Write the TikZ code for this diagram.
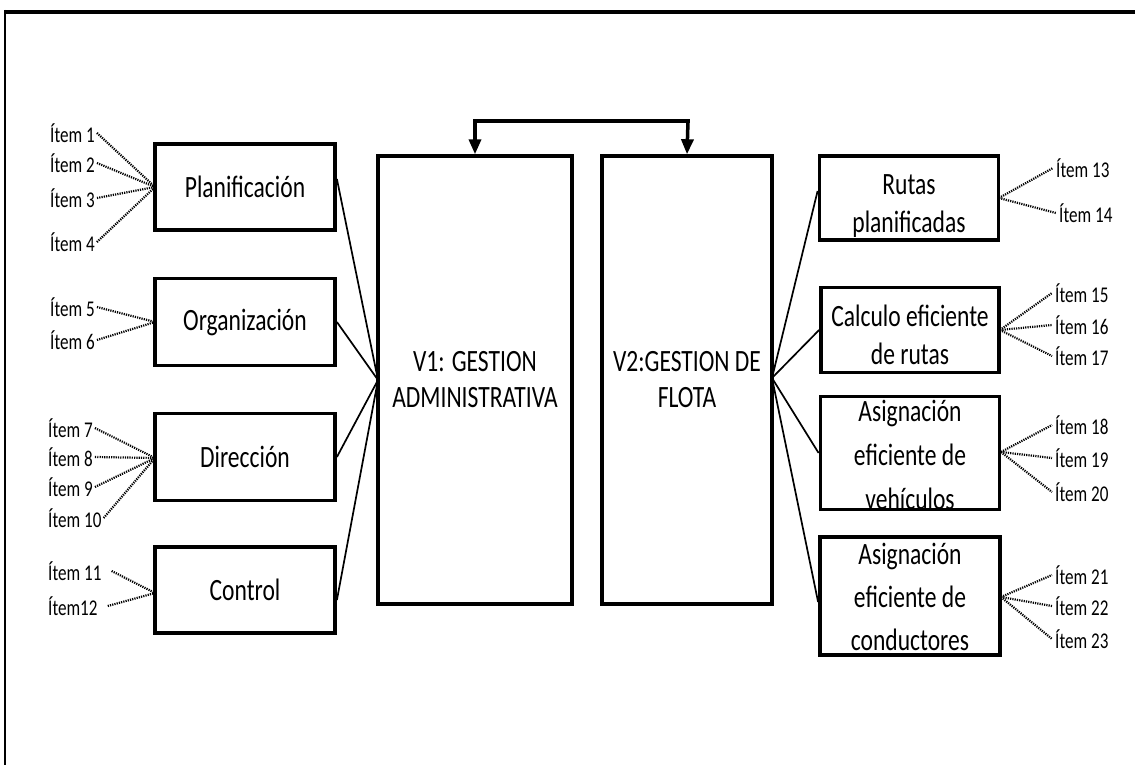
\documentclass[tikz,border=0pt]{standalone}
\usepackage{fontspec}
\setmainfont{Carlito}[FakeStretch=0.76]
\usetikzlibrary{arrows.meta}
\begin{document}
\begin{tikzpicture}[x=1pt,y=-1pt,
  box/.style={draw,line width=3.8pt,inner sep=0pt},
  bigbox/.style={draw,line width=3.4pt,inner sep=0pt,minimum width=194pt,minimum height=448pt},
  lbl/.style={align=center,inner sep=0pt,font=\fontsize{31}{38}\selectfont},
  itm/.style={inner sep=0pt,font=\fontsize{22.5}{24}\selectfont},
  link/.style={line width=1.7pt},
  dots/.style={line width=2.2pt,dash pattern=on 1.2pt off 1.1pt},
  feed/.style={line width=3.5pt,-{Triangle[length=15pt,width=12pt]}}]
\useasboundingbox (0,0) rectangle (1135,765);
% outer frame
\draw[line width=4pt] (4,12) -- (1135,12);
\draw[line width=2.6pt] (5,10) -- (5,765);

% central blocks
\node[bigbox] (v1) at (475,380) {};
\node[bigbox,minimum width=170pt] (v2) at (687,380) {};
\node[lbl,font=\fontsize{31}{36}\selectfont] (v1t) at (v1.center) {V1: GESTION\\ADMINISTRATIVA};
\node[lbl,font=\fontsize{31}{36}\selectfont] (v2t) at (v2.center) {V2:GESTION DE\\FLOTA};
\coordinate (v1in) at (378,380);
\coordinate (v2out) at (772,378);

% link between the two blocks
\coordinate (ta) at (475,121);
\coordinate (tb) at (688,121);
\draw[feed] (ta) -- (v1.north);
\draw[feed] (tb) -- (v2.north);
\draw[line width=3.5pt,line cap=rect] (ta) -- (tb);

% dimensions of V1
\node[box,minimum width=180pt,minimum height=86pt] (plan) at (245,187) {};
\node[box,minimum width=180pt,minimum height=87pt] (org) at (245,322) {};
\node[box,minimum width=180pt,minimum height=87pt] (dir) at (245,457) {};
\node[box,minimum width=180pt,minimum height=86pt] (ctl) at (245,590) {};
\node[lbl] (plant) at (plan.center) {Planificación};
\node[lbl] (orgt) at (org.center) {Organización};
\node[lbl] (dirt) at (dir.center) {Dirección};
\node[lbl] (ctlt) at (ctl.center) {Control};
\draw[link] ([yshift=8pt]plan.east) -- (v1in);
\draw[link] (org.east) -- (v1in);
\draw[link] (dir.east) -- (v1in);
\draw[link] ([yshift=-10pt]ctl.east) -- (v1in);

% dimensions of V2
\node[box,minimum width=179pt,minimum height=84pt] (rut) at (909,198) {};
\node[box,minimum width=178pt,minimum height=85pt] (cal) at (910,330) {};
\node[box,minimum width=179pt,minimum height=113pt] (veh) at (910,453) {};
\node[box,minimum width=180pt,minimum height=118pt] (con) at (910,596) {};
\node[lbl] (rutt) at (909,206) {Rutas\\planificadas};
\node[lbl] (calt) at (910,335) {Calculo eficiente\\de rutas};
\node[lbl,font=\fontsize{31}{44}\selectfont] (veht) at (910,455) {Asignación\\eficiente de\\vehículos};
\node[lbl,font=\fontsize{31}{43}\selectfont] (cont) at (910,597) {Asignación\\eficiente de\\conductores};
\draw[link] (v2out) -- ([yshift=7pt]rut.west);
\draw[link] (v2out) -- (cal.west);
\draw[link] (v2out) -- (veh.west);
\draw[link] (v2out) -- ([yshift=-6pt]con.west);

% indicators
\coordinate (cplan) at (155,187);
\coordinate (corg) at (155,322);
\coordinate (cdir) at (155,458);
\coordinate (cctl) at (155,593);
\coordinate (crut) at (999,198);
\coordinate (ccal) at (1000,330);
\coordinate (cveh) at (1001,452);
\coordinate (ccon) at (1001,597);

\node[itm,anchor=west] (i1) at (50,133) {Ítem 1};
\node[itm,anchor=west] (i2) at (50,163) {Ítem 2};
\node[itm,anchor=west] (i3) at (50,198) {Ítem 3};
\node[itm,anchor=west] (i4) at (50,242) {Ítem 4};
\node[itm,anchor=west] (i5) at (50,307) {Ítem 5};
\node[itm,anchor=west] (i6) at (50,340) {Ítem 6};
\node[itm,anchor=west] (i7) at (48,428) {Ítem 7};
\node[itm,anchor=west] (i8) at (48,457) {Ítem 8};
\node[itm,anchor=west] (i9) at (48,487) {Ítem 9};
\node[itm,anchor=west] (i10) at (48,518) {Ítem 10};
\node[itm,anchor=west] (i11) at (48,571) {Ítem 11};
\node[itm,anchor=west] (i12) at (48,606) {Ítem12};
\foreach \i in {1,2,3,4} \draw[dots] ([xshift=2pt]i\i.east) -- (cplan);
\foreach \i in {5,6} \draw[dots] ([xshift=2pt]i\i.east) -- (corg);
\foreach \i in {7,8,9,10} \draw[dots] ([xshift=2pt]i\i.east) -- (cdir);
\foreach \i in {11,12} \draw[dots] ([xshift=10pt]i\i.east) -- (cctl);

\node[itm,anchor=west] (i13) at (1056,168) {Ítem 13};
\node[itm,anchor=west] (i14) at (1059,213) {Ítem 14};
\node[itm,anchor=west] (i15) at (1055,293) {Ítem 15};
\node[itm,anchor=west] (i16) at (1055,325) {Ítem 16};
\node[itm,anchor=west] (i17) at (1055,356) {Ítem 17};
\node[itm,anchor=west] (i18) at (1055,425) {Ítem 18};
\node[itm,anchor=west] (i19) at (1055,458) {Ítem 19};
\node[itm,anchor=west] (i20) at (1055,492) {Ítem 20};
\node[itm,anchor=west] (i21) at (1055,575) {Ítem 21};
\node[itm,anchor=west] (i22) at (1055,606) {Ítem 22};
\node[itm,anchor=west] (i23) at (1055,639) {Ítem 23};
\foreach \i in {13,14} \draw[dots] (crut) -- ([xshift=-3pt]i\i.west);
\foreach \i in {15,16,17} \draw[dots] (ccal) -- ([xshift=-3pt]i\i.west);
\foreach \i in {18,19,20} \draw[dots] (cveh) -- ([xshift=-3pt]i\i.west);
\foreach \i in {21,22,23} \draw[dots] (ccon) -- ([xshift=-3pt]i\i.west);
\end{tikzpicture}
\end{document}
